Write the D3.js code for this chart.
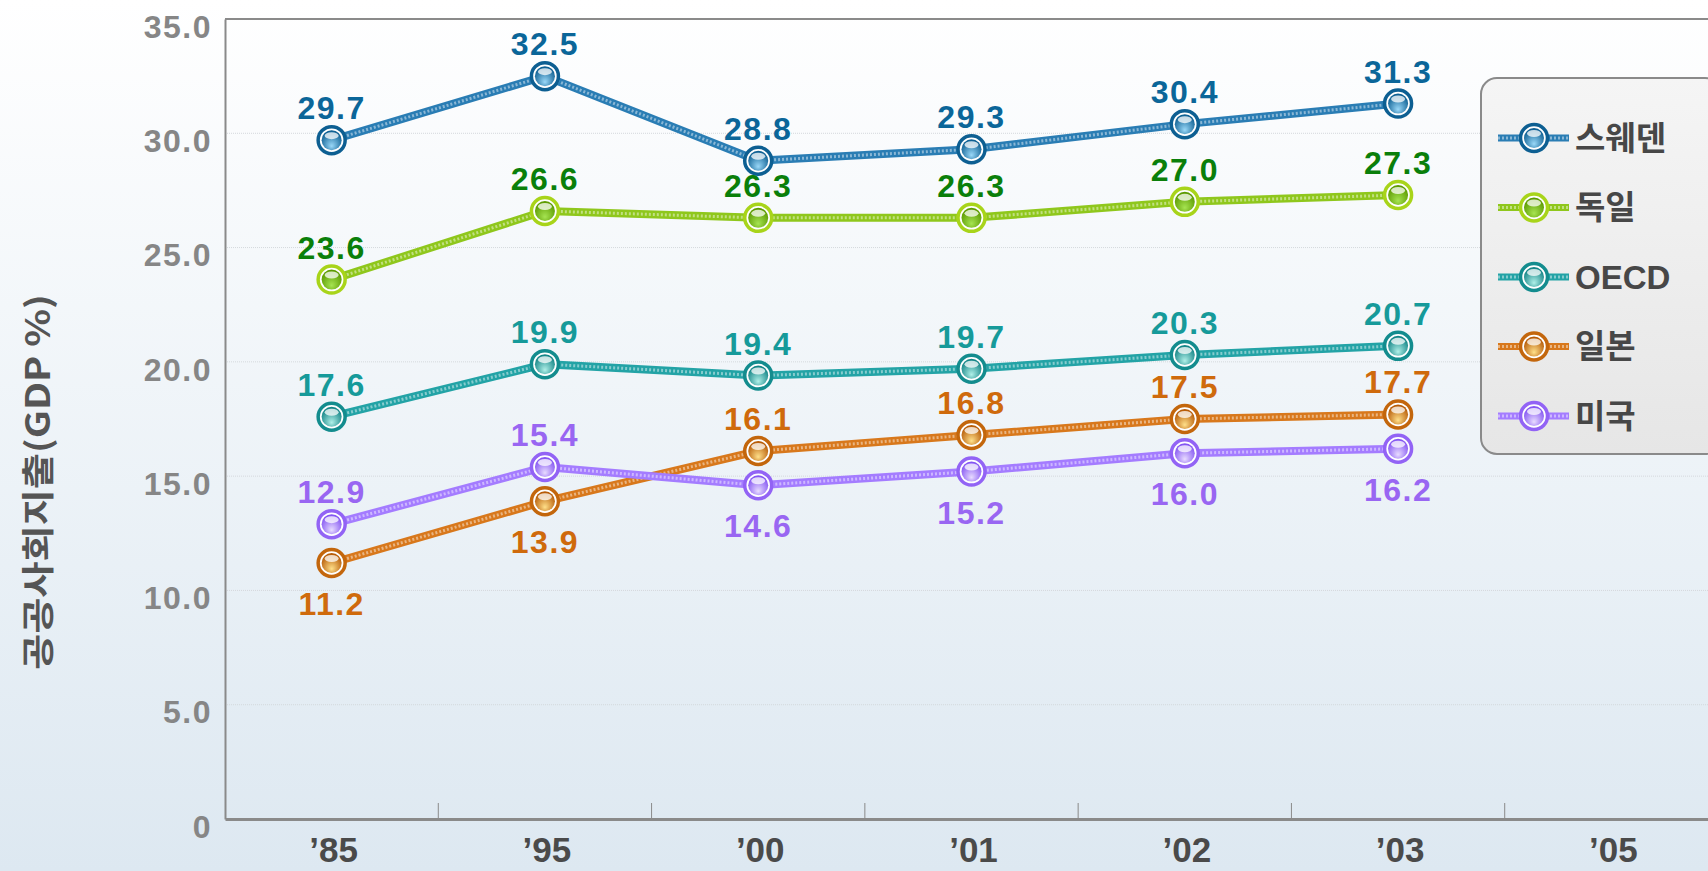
<!DOCTYPE html>
<html>
<head>
<meta charset="utf-8">
<script src="https://cdn.jsdelivr.net/npm/d3@7"></script>
<style>
body{margin:0;overflow:hidden;background:#fff;}
text{font-family:"Liberation Sans",Arial,"Noto Sans CJK KR",sans-serif;font-weight:bold;}
</style>
</head>
<body>
<div id="chart"></div>
<script>
var years=["’85","’95","’00","’01","’02","’03","’05"];
var yTicks=[0,5,10,15,20,25,30,35];
var seriesNames=["스웨덴","독일","OECD","일본","미국"];
var sweden=[29.7,32.5,28.8,29.3,30.4,31.3];
var germany=[23.6,26.6,26.3,26.3,27.0,27.3];
var oecd=[17.6,19.9,19.4,19.7,20.3,20.7];
var japan=[11.2,13.9,16.1,16.8,17.5,17.7];
var usa=[12.9,15.4,14.6,15.2,16.0,16.2];
// which labels go under the point (1) or over it (0)
var japanBelow=[1,1,0,0,0,0];
var usaBelow=[0,0,1,1,1,1];

var colors={
	"스웨덴":{line:"#2a7db4",dark:"#0d5f92",light:"#9ad8f8",text:"#0b6699",ring:"#0d5f92"},
	"독일":{line:"#8fc71c",dark:"#5c9a00",light:"#a6e452",text:"#0a7f0a",ring:"#a8d41a"},
	"OECD":{line:"#23a3a6",dark:"#138486",light:"#b0f0e8",text:"#169a9a",ring:"#138c8e"},
	"일본":{line:"#d8781c",dark:"#b65a06",light:"#ffe08a",text:"#cf6a0c",ring:"#c3660c"},
	"미국":{line:"#a47cff",dark:"#8455f2",light:"#e8dcff",text:"#9966f2",ring:"#9263f5"}
};

var series=[
	{name:"스웨덴",values:sweden,below:[0,0,0,0,0,0]},
	{name:"독일",values:germany,below:[0,0,0,0,0,0]},
	{name:"OECD",values:oecd,below:[0,0,0,0,0,0]},
	{name:"일본",values:japan,below:japanBelow},
	{name:"미국",values:usa,below:usaBelow}
];

var W=1708,H=871;
var margin={top:19,left:225,bottom:52},
	plotW=1493,
	plotH=H-margin.top-margin.bottom;

var x=d3.scaleBand().domain(years).range([0,plotW]).padding(0);
var y=d3.scaleLinear().domain([0,35]).range([plotH,0]);

var svg=d3.select("#chart").append("svg")
	.attr("width",W)
	.attr("height",H);

var defs=svg.append("defs");
var bg=defs.append("linearGradient").attr("id","bg").attr("x1",0).attr("y1",0).attr("x2",0).attr("y2",1);
bg.append("stop").attr("offset","0%").attr("stop-color","#ffffff");
bg.append("stop").attr("offset","100%").attr("stop-color","#dde8f1");

var lg=defs.append("linearGradient").attr("id","legbg").attr("x1",0).attr("y1",0).attr("x2",0).attr("y2",1);
lg.append("stop").attr("offset","0%").attr("stop-color","#f5f5f5");
lg.append("stop").attr("offset","100%").attr("stop-color","#e6e6e6");

seriesNames.forEach(function(n,i){
	var g=defs.append("radialGradient").attr("id","ball"+i)
		.attr("cx","50%").attr("cy","65%").attr("r","60%").attr("fx","50%").attr("fy","80%");
	g.append("stop").attr("offset","0%").attr("stop-color",colors[n].light);
	g.append("stop").attr("offset","100%").attr("stop-color",colors[n].dark);
});

svg.append("rect").attr("width",W).attr("height",H).attr("fill","url(#bg)");

var plot=svg.append("g")
	.attr("transform","translate("+margin.left+","+margin.top+")");

// grid
plot.selectAll(".grid")
	.data(yTicks.filter(function(d){return d>0&&d<35;}))
	.enter().append("line")
	.attr("x1",0).attr("x2",plotW)
	.attr("y1",function(d){return y(d);})
	.attr("y2",function(d){return y(d);})
	.attr("stroke","#d4d8dc")
	.attr("stroke-width",1)
	.attr("stroke-dasharray","1,1");

// frame top + left
plot.append("line").attr("x1",0).attr("x2",plotW).attr("y1",0).attr("y2",0)
	.attr("stroke","#8a8a8a").attr("stroke-width",2);

var yAxis=d3.axisLeft(y).tickValues(yTicks).tickSize(0).tickPadding(13)
	.tickFormat(function(d){return d===0?"0":d3.format(".1f")(d);});
plot.append("g").attr("class","y axis").call(yAxis)
	.call(function(g){g.select(".domain").attr("stroke","#8a8a8a").attr("stroke-width",2);})
	.selectAll("text")
	.attr("fill","#868686")
	.style("font-size","32px")
	.style("letter-spacing","1.5px")
	.attr("dy","0.57em");

var xAxis=d3.axisBottom(x).tickSize(0);
var xg=plot.append("g").attr("class","x axis")
	.attr("transform","translate(0,"+plotH+")")
	.call(xAxis);
xg.select(".domain").attr("stroke","#8a8a8a").attr("stroke-width",3);
xg.selectAll("text")
	.attr("fill","#4a4a4a")
	.style("font-size","35px")
	.attr("x",2)
	.attr("y",43)
	.attr("dy",0);
// ticks between bands
plot.selectAll(".sep")
	.data(years.slice(1))
	.enter().append("line")
	.attr("x1",function(d){return x(d);})
	.attr("x2",function(d){return x(d);})
	.attr("y1",plotH-16).attr("y2",plotH)
	.attr("stroke","#8a8a8a").attr("stroke-width",1);

svg.append("text")
	.attr("text-anchor","middle")
	.attr("transform","translate(50,482)rotate(-90)")
	.attr("fill","#555")
	.attr("textLength",376)
	.attr("lengthAdjust","spacingAndGlyphs")
	.style("font-family","'Noto Sans CJK KR','Liberation Sans',sans-serif")
	.style("font-size","33px")
	.text("공공사회지출(GDP %)");

var line=d3.line()
	.x(function(d,i){return x(years[i])+x.bandwidth()/2;})
	.y(function(d){return y(d);});

function drawMarker(g,cx,cy,i,n){
	g.append("circle").attr("cx",cx).attr("cy",cy).attr("r",13.5)
		.attr("fill","#fff").attr("stroke",colors[n].ring).attr("stroke-width",3.5);
	g.append("circle").attr("cx",cx).attr("cy",cy).attr("r",10)
		.attr("fill","url(#ball"+i+")");
	g.append("ellipse").attr("cx",cx).attr("cy",cy-4.5).attr("rx",7).attr("ry",3.5)
		.attr("fill","#fff").attr("opacity",0.75);
}

series.forEach(function(s,i){
	var c=colors[s.name];
	var g=plot.append("g");
	g.append("path").datum(s.values).attr("d",line)
		.attr("fill","none").attr("stroke",c.line).attr("stroke-width",8);
	g.append("path").datum(s.values).attr("d",line)
		.attr("fill","none").attr("stroke","#ffffff").attr("stroke-opacity",0.45)
		.attr("stroke-width",3).attr("stroke-dasharray","2,2");
	s.values.forEach(function(v,j){
		var cx=x(years[j])+x.bandwidth()/2, cy=y(v);
		drawMarker(g,cx,cy,i,s.name);
	});
	g.selectAll(".lbl")
		.data(s.values)
		.enter().append("text")
		.attr("text-anchor","middle")
		.attr("x",function(d,j){return x(years[j])+x.bandwidth()/2;})
		.attr("y",function(d,j){return s.below[j]?y(d)+52:y(d)-21;})
		.attr("fill",c.text)
		.style("font-size","32px")
		.style("letter-spacing","1.5px")
		.text(function(d){return d3.format(".1f")(d);});
});

// legend
var leg=svg.append("g").attr("transform","translate(1481,78)");
leg.append("rect").attr("width",240).attr("height",376).attr("rx",16)
	.attr("fill","url(#legbg)").attr("stroke","#8a8a8a").attr("stroke-width",2);
seriesNames.forEach(function(n,i){
	var ly=60+i*69.5;
	var c=colors[n];
	leg.append("line").attr("x1",17).attr("x2",88).attr("y1",ly).attr("y2",ly)
		.attr("stroke",c.line).attr("stroke-width",7);
	leg.append("line").attr("x1",17).attr("x2",88).attr("y1",ly).attr("y2",ly)
		.attr("stroke","#fff").attr("stroke-opacity",0.45).attr("stroke-width",3).attr("stroke-dasharray","2,2");
	drawMarker(leg,53,ly,i,n);
	leg.append("text").attr("x",94).attr("y",ly).attr("dy","0.36em")
		.attr("fill","#474747")
		.style("font-family","'Liberation Sans','Noto Sans CJK KR',sans-serif")
		.style("font-size","33px")
		.text(n);
});
</script>
</body>
</html>
